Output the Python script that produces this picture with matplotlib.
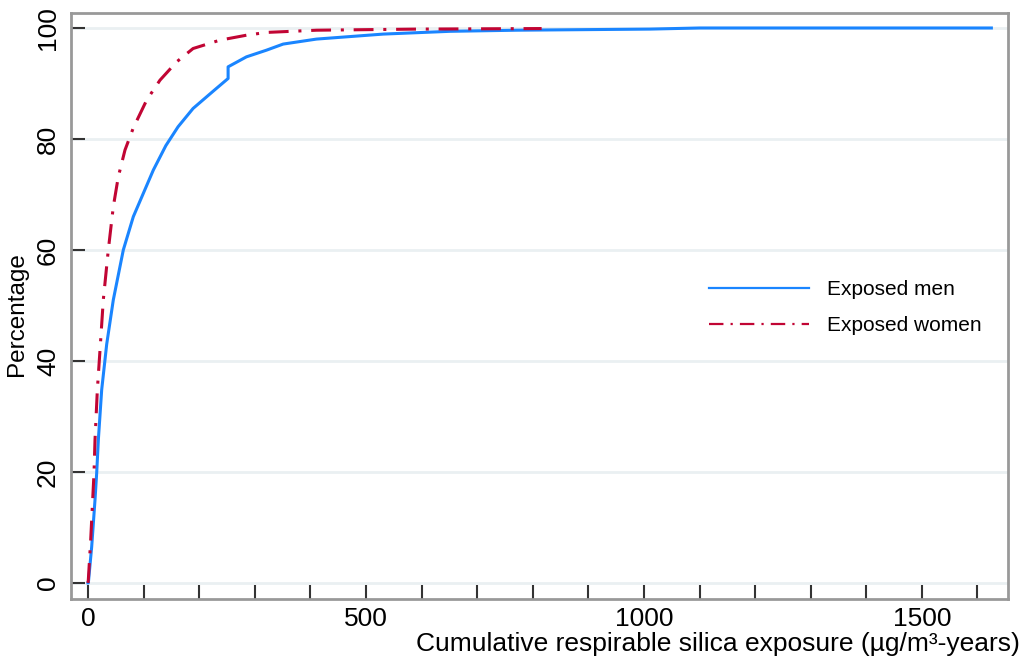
import matplotlib
matplotlib.use("Agg")
import matplotlib.pyplot as plt

plt.rcParams['font.family'] = ['Liberation Sans', 'DejaVu Sans']

# cumulative distribution
men_x = [0, 0.6, 6.6, 12.6, 15.6, 18.6, 24.6, 33.6, 45.5, 63.5, 81.5, 99.5, 117.5,
         140, 162, 189, 225, 252, 252, 285, 321, 351, 411, 531, 651, 771,
         891, 1011, 1100, 1625]
men_y = [0, 0, 6.5, 15, 19.8, 25.8, 34.8, 43, 51, 60, 66, 70.2, 74.4,
         78.8, 82.2, 85.5, 88.6, 90.9, 93.0, 94.8, 96.0, 97.1, 98.0, 98.9, 99.4, 99.6,
         99.7, 99.8, 100, 100]

women_x = [0, 0.6, 4.8, 8.4, 10.8, 12.6, 16.8, 22.8, 27.5, 36.5, 45.5, 54.5, 66.5,
           81.5, 105.5, 129.5, 159.5, 189, 237, 285, 321, 411, 591, 816]
women_y = [0, 0.6, 7.7, 15, 19.8, 25.8, 34.8, 43.8, 51, 60, 67.8, 73.2, 78,
           82, 87, 90.6, 93.9, 96.3, 97.8, 98.7, 99.2, 99.6, 99.8, 99.9]

fig = plt.figure(figsize=(10.26, 6.6), dpi=100)
ax = fig.add_axes([0.0692, 0.0924, 0.9133, 0.8879])

for v in [0, 20, 40, 60, 80, 100]:
    ax.axhline(v, color='#eaf0f2', lw=2, zorder=0)

ax.plot(men_x, men_y, color='#1a85ff', lw=2.2, label='Exposed men')
ax.plot(women_x, women_y, color='#c10534', lw=2.2, dashes=[6.5, 3.2, 1, 3.2], label='Exposed women')

ax.set_xlim(-30.6, 1655)
ax.set_ylim(-2.9, 102.7)
ax.set_xticks(range(0, 1700, 100))
ax.set_xticklabels(['0' if t == 0 else str(t) if t % 500 == 0 else '' for t in range(0, 1700, 100)])
ax.set_yticks([0, 20, 40, 60, 80, 100])
ax.set_yticklabels(['0', '20', '40', '60', '80', '100'], rotation=90, va='center')
ax.tick_params(direction='in', length=10, width=1.5, color='#333333', labelsize=19, pad=6)
ax.tick_params(axis='y', pad=8)

for s in ax.spines.values():
    s.set_color('#999999')
    s.set_linewidth(2)

ax.set_ylabel('Percentage', fontsize=17.5)
ax.yaxis.set_label_coords(-0.046, 0.486)
fig.text(0.994, 0.006, 'Cumulative respirable silica exposure (µg/m³-years)', ha='right', va='bottom', fontsize=19)

leg = ax.legend(loc='center left', bbox_to_anchor=(0.661, 0.497), frameon=False, fontsize=15,
                handlelength=4.8, labelspacing=0.8, handletextpad=0.85)
for h in leg.get_lines():
    h.set_linewidth(1.6)

fig.savefig('out.png', dpi=100)
